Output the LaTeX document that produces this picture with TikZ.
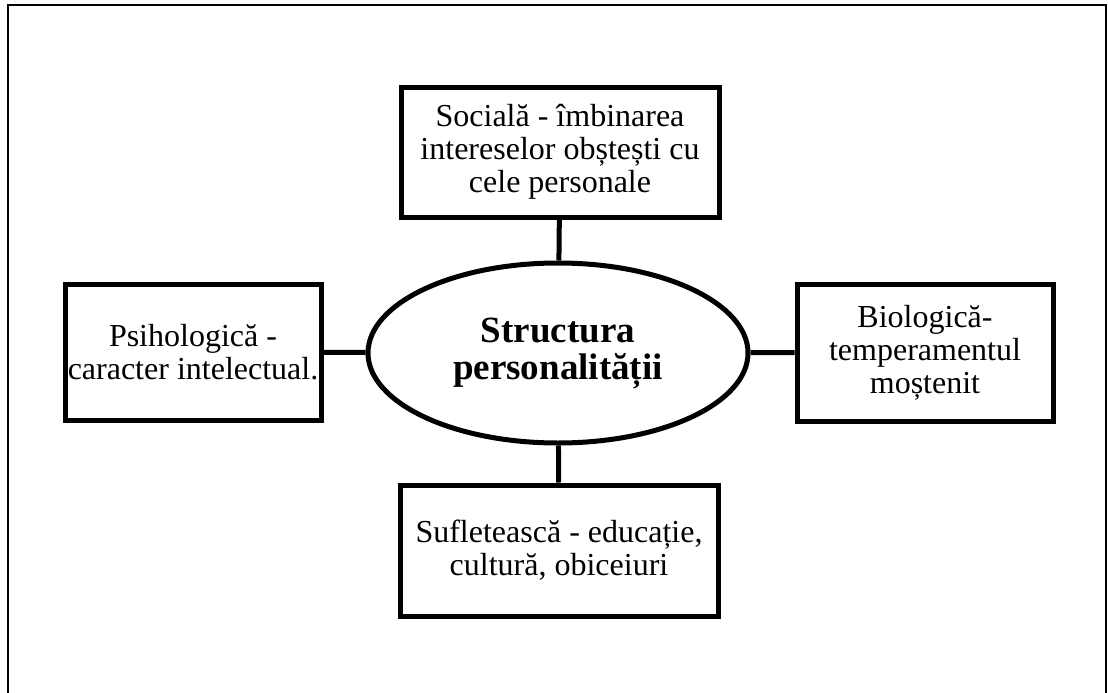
\documentclass[tikz,border=0pt]{standalone}
\usepackage{fontspec}
\setmainfont{Liberation Serif}
\usetikzlibrary{shapes.geometric,positioning}
\tikzset{partbox/.style={draw,line width=5pt,align=center,inner sep=0pt,
		font=\fontsize{32}{33}\selectfont}}
\tikzset{corebox/.style={ellipse,draw,line width=5pt,minimum width=380pt,
		minimum height=180pt,inner sep=0pt,align=center,
		font=\fontsize{37}{37}\selectfont\bfseries}}
\begin{document}
\begin{tikzpicture}[x=1pt,y=-1pt,link/.style={line width=5pt}]
		
		\useasboundingbox (0,0) rectangle (1108,693);
		% open frame, no bottom edge
		\draw[line width=2pt] (8,693) -- (8,5) -- (1106,5) -- (1106,693);
		
		\node[corebox] (struct) at (558,353) {Structura\\personalității};
		
		\node[partbox,minimum width=318pt,minimum height=130pt] (soc) at (560,152)
		{Socială - îmbinarea\\intereselor obștești cu\\cele personale};
		\node[partbox,minimum width=256pt,minimum height=136pt] (psi) at (193,352)
		{Psihologică -\\caracter intelectual.};
		\node[partbox,minimum width=256pt,minimum height=137pt] (bio) at (925,352.5)
		{Biologică-\\temperamentul\\moștenit};
		\node[partbox,minimum width=318pt,minimum height=131pt] (suf) at (559,550.5)
		{Sufletească - educație,\\cultură, obiceiuri};
		
		\draw[link] (soc) -- (struct);
		\draw[link] (psi) -- (struct);
		\draw[link] (bio) -- (struct);
		\draw[link] (suf) -- (struct);
\end{tikzpicture}
\end{document}
